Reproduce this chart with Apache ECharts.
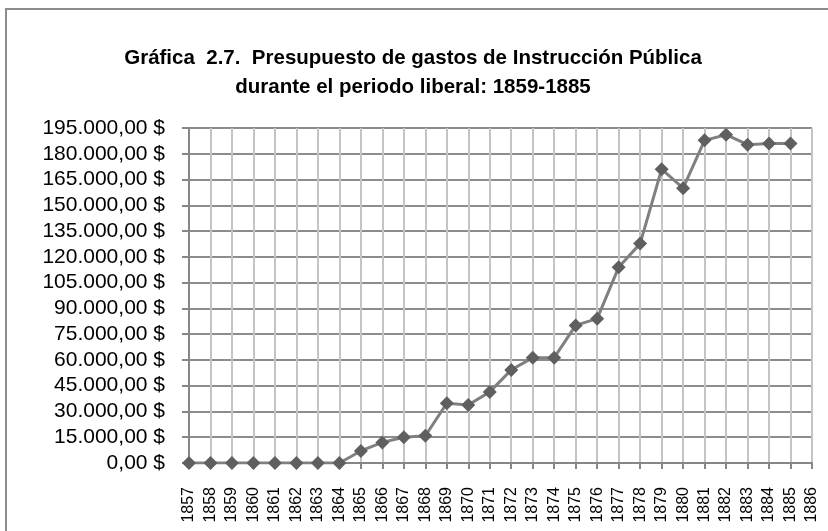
<!DOCTYPE html>
<html>
<head>
<meta charset="utf-8">
<script src="https://cdn.jsdelivr.net/npm/echarts@6/dist/echarts.min.js"></script>
<style>
  html, body { margin: 0; padding: 0; background: #fff; }
  #chart { width: 828px; height: 531px; }
</style>
</head>
<body>
<div id="chart"></div>
<script>
// años del eje horizontal
const years = ['1857', '1858', '1859', '1860', '1861', '1862', '1863', '1864', '1865', '1866',
  '1867', '1868', '1869', '1870', '1871', '1872', '1873', '1874', '1875', '1876',
  '1877', '1878', '1879', '1880', '1881', '1882', '1883', '1884', '1885', '1886'];

// presupuesto (pesos); 1886 sin dato
const budget = [0, 0, 0, 0, 0, 0, 0, 0, 7000, 12000,
  15000, 15800, 34800, 33800, 41400, 54200, 61300, 61300, 80100, 84000,
  113900, 127700, 171000, 160000, 187800, 191100, 185300, 186000, 186000, null];

const yMin = 0;
const yMax = 195000;
const yStep = 15000;

const chart = echarts.init(document.getElementById('chart'));

// formato "195.000,00 $"
function money(v) {
  const s = Math.round(v).toString().replace(/\B(?=(\d{3})+(?!\d))/g, '.');
  return s + ',00 $';
}

chart.setOption({
  backgroundColor: '#fff',
  animation: false,
  textStyle: { fontFamily: 'Liberation Sans, Arial, sans-serif' },
  graphic: [{
    type: 'rect',
    shape: { x: 6, y: 9, width: 900, height: 700 },
    style: { fill: 'none', stroke: '#8c8c8c', lineWidth: 2 }
  }],
  title: {
    text: 'Gráfica  2.7.  Presupuesto de gastos de Instrucción Pública\ndurante el periodo liberal: 1859-1885',
    left: 408,
    top: 39,
    textAlign: 'center',
    textStyle: {
      fontSize: 20.5,
      fontWeight: 'bold',
      color: '#000',
      lineHeight: 29,
      fontFamily: 'Liberation Sans, Arial, sans-serif'
    }
  },
  grid: { left: 189, right: 16, top: 128, bottom: 68 },
  xAxis: {
    type: 'category',
    data: years,
    boundaryGap: false,
    axisLine: { lineStyle: { color: '#868686', width: 2 } },
    axisTick: { show: true, length: 6, interval: 0, lineStyle: { color: '#868686', width: 2 } },
    axisLabel: { rotate: 90, interval: 0, margin: 24, fontSize: 16, color: '#000' },
    splitLine: { show: true, interval: 0, lineStyle: { color: '#c4c4c4', width: 2 } }
  },
  yAxis: {
    type: 'value',
    min: yMin,
    max: yMax,
    interval: yStep,
    axisLine: { show: true, lineStyle: { color: '#868686', width: 2 } },
    axisTick: { show: true, length: 7, lineStyle: { color: '#868686', width: 2 } },
    axisLabel: { margin: 24, fontSize: 21, color: '#000', formatter: money },
    splitLine: { lineStyle: { color: '#8c8c8c', width: 2 } }
  },
  series: [{
    type: 'line',
    data: budget,
    symbol: 'diamond',
    symbolSize: 14,
    lineStyle: { color: '#808080', width: 3 },
    itemStyle: { color: '#5f5f5f' },
    z: 5
  }]
});
</script>
</body>
</html>
